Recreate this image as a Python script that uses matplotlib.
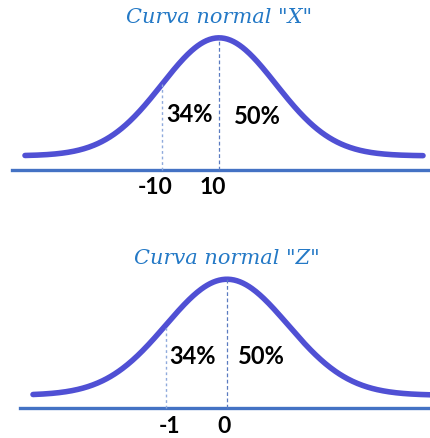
import numpy as np
import matplotlib

matplotlib.use("Agg")
import matplotlib.pyplot as plt

# panel data: title, mean, sigma, tick labels (at mean - sigma, mean), area labels
titles = ['Curva normal "X"', 'Curva normal "Z"']
means = [10, 0]
sigmas = [20, 1]
tick_labels = [["-10", "10"], ["-1", "0"]]
area_labels = ["34%", "50%"]

CURVE = "#4646D2"
BASE = "#4472C4"
TITLE = "#2479C6"

W, H = 430, 438
fig = plt.figure(figsize=(W / 100, H / 100), dpi=100)

# per-panel layout in pixels (peak x, px per sigma, baseline y, px per unit height, tail lift)
layout = [
    dict(top=0, bottom=220, peak_x=219, px_sig=57, base_y=170, px_unit=118, lift=0.12,
         curve=(25, 423), line=(12, 430), lab_z=[-0.51, 0.68], lab_y=[0.47, 0.45],
         tick_dx=[-7, -6], tick_y=-0.15),
    dict(top=220, bottom=438, peak_x=227, px_sig=61, base_y=408, px_unit=116, lift=0.11,
         curve=(33, 430), line=(20, 430), lab_z=[-0.57, 0.56], lab_y=[0.44, 0.44],
         tick_dx=[3, -3], tick_y=-0.16),
]

for i, L in enumerate(layout):
    mu, sd = means[i], sigmas[i]
    ax = fig.add_axes([0, 1 - L["bottom"] / H, 1, (L["bottom"] - L["top"]) / H])
    ax.set_axis_off()

    to_x = lambda px: mu + sd * (px - L["peak_x"]) / L["px_sig"]
    ax.set_xlim(to_x(0), to_x(W))
    ax.set_ylim(-(L["bottom"] - L["base_y"]) / L["px_unit"], (L["base_y"] - L["top"]) / L["px_unit"])

    # bell curve
    x = np.linspace(to_x(L["curve"][0]), to_x(L["curve"][1]), 400)
    y = L["lift"] + np.exp(-0.5 * ((x - mu) / sd) ** 2)
    ax.plot(x, y, color=CURVE, lw=4, solid_capstyle="round", alpha=0.95)

    # baseline
    ax.plot([to_x(L["line"][0]), to_x(L["line"][1])], [0, 0], color=BASE, lw=2.4)

    # guide lines at mean - sigma and mean
    y_left = L["lift"] + np.exp(-0.5)
    ax.plot([mu - sd, mu - sd], [0, y_left], color="#8FAADC", lw=1, ls=(0, (2, 2)))
    ax.plot([mu, mu], [0, L["lift"] + 1], color="#5A7BC0", lw=0.9, ls=(0, (3, 2)))

    # tick labels
    for xv, lab, dx in zip([mu - sd, mu], tick_labels[i], L["tick_dx"]):
        ax.text(xv + sd * dx / L["px_sig"], L["tick_y"], lab, ha="center", va="center",
                fontsize=16.5, fontweight="bold", family="Lato", color="black")

    # area labels
    for z, yv, lab in zip(L["lab_z"], L["lab_y"], area_labels):
        ax.text(mu + sd * z, yv, lab, ha="center", va="center",
                fontsize=17, fontweight="bold", family="Lato", color="black")

    ax.text(mu, 1.29, titles[i], ha="center", va="center", fontsize=15,
            style="italic", family="DejaVu Serif", color=TITLE)

fig.savefig("out.png", dpi=100)
